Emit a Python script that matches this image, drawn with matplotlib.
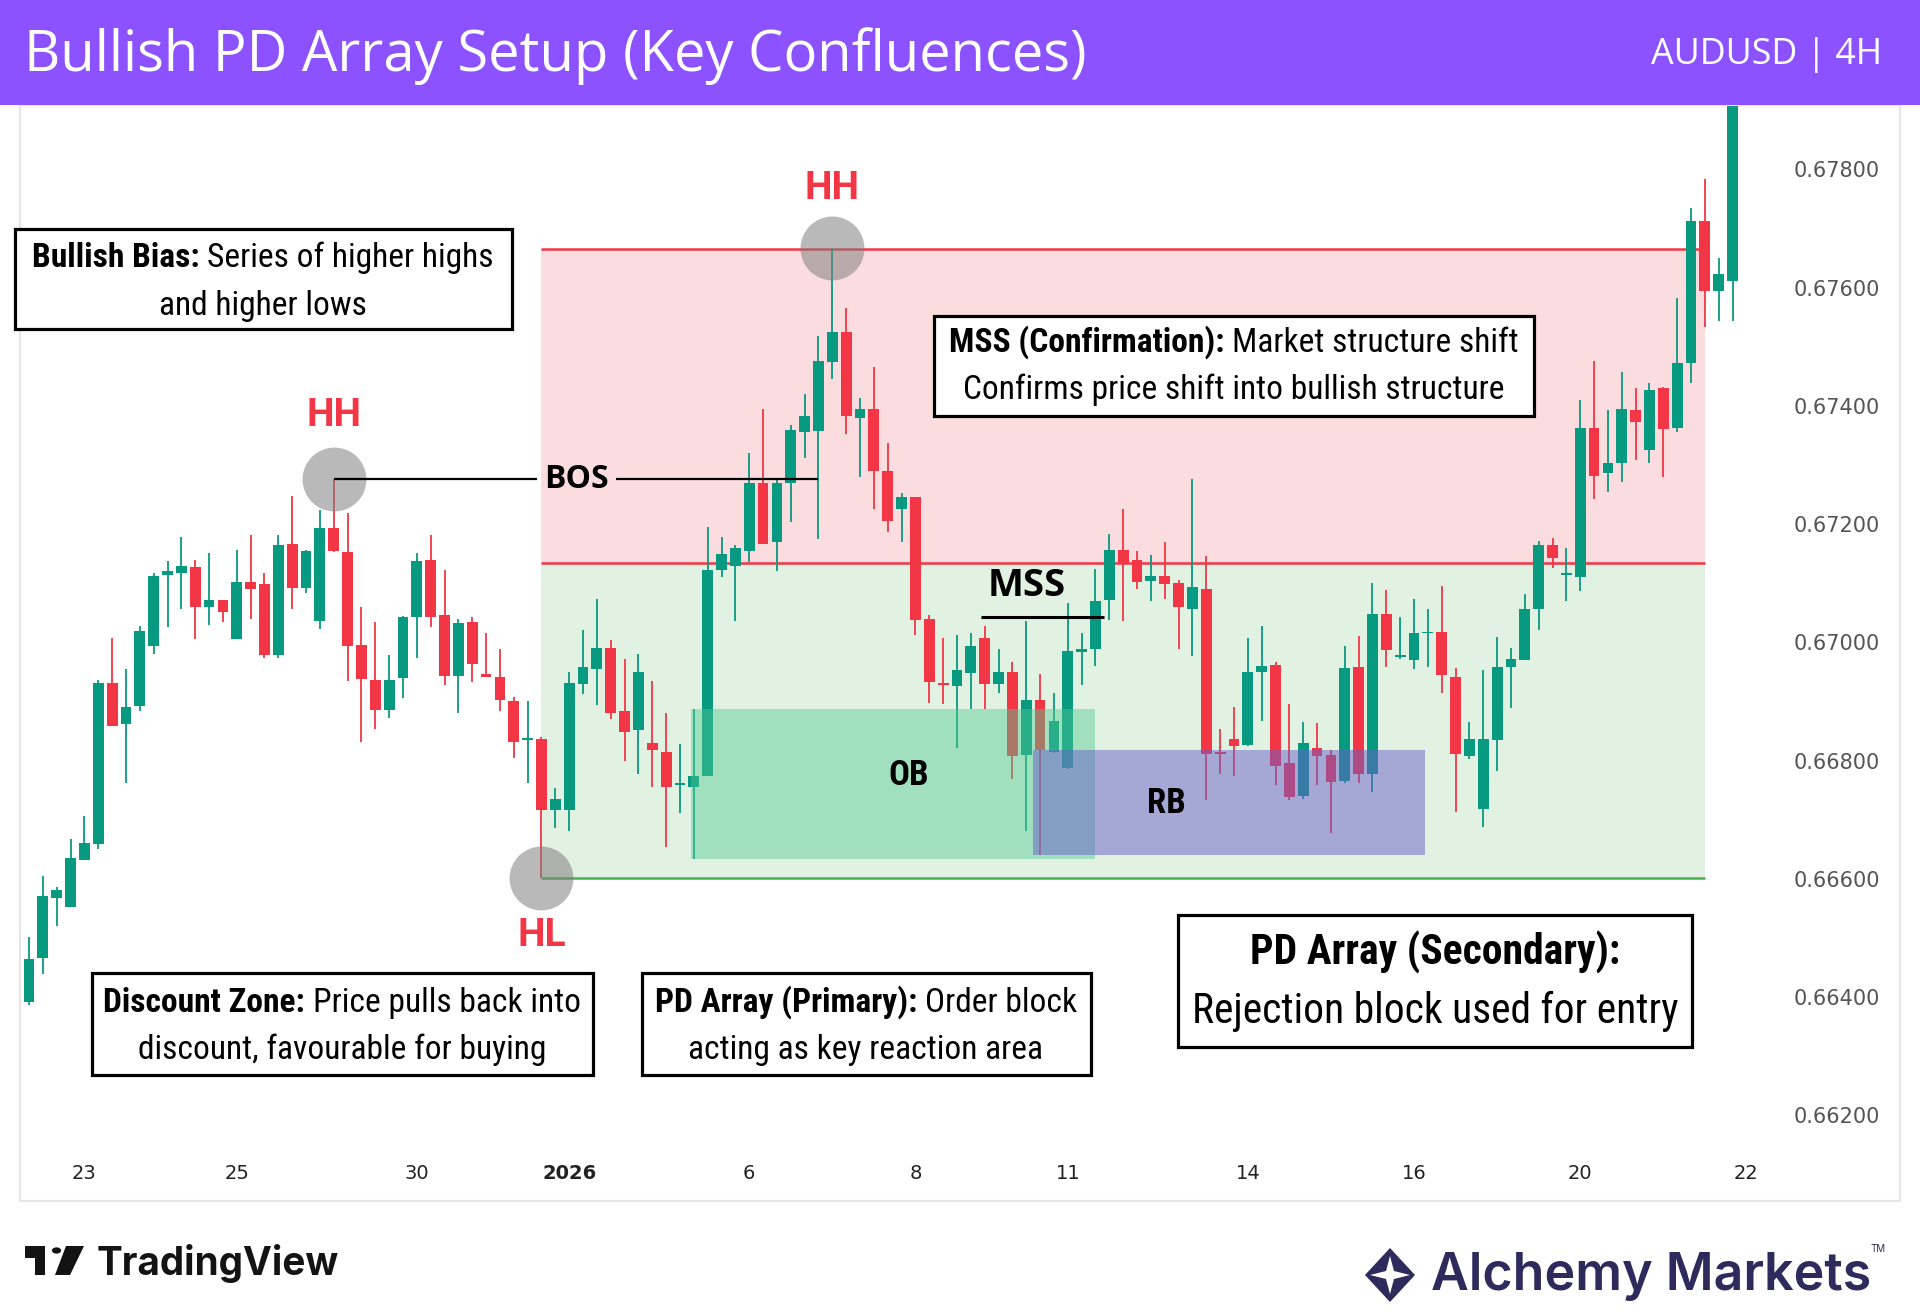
import matplotlib
matplotlib.use("Agg")
import matplotlib.pyplot as plt
from matplotlib import font_manager
from matplotlib.patches import Rectangle, Polygon, Circle
import numpy as np

W, H = 1920, 1314

# AUDUSD 4H candles
opens = [
    0.66392, 0.66466, 0.66567, 0.66552, 0.66631, 0.66659, 0.66931, 0.66861, 0.66892, 0.66994,
    0.67114, 0.67117, 0.67127, 0.67059, 0.67072, 0.67005, 0.67102, 0.67099, 0.66978, 0.67167,
    0.67092, 0.67036, 0.67193, 0.67153, 0.66996, 0.66936, 0.66886, 0.66939, 0.67043, 0.67140,
    0.67047, 0.66943, 0.67034, 0.66947, 0.66941, 0.66900, 0.66835, 0.66837, 0.66717, 0.66716,
    0.66929, 0.66954, 0.66990, 0.66884, 0.66852, 0.66830, 0.66815, 0.66759, 0.66756, 0.66774,
    0.67123, 0.67129, 0.67155, 0.67270, 0.67169, 0.67269, 0.67355, 0.67358, 0.67474, 0.67525,
    0.67380, 0.67395, 0.67289, 0.67225, 0.67246, 0.67040, 0.66931, 0.66926, 0.66948, 0.67007,
    0.66930, 0.66950, 0.66809, 0.66902, 0.66815, 0.66787, 0.66984, 0.66989, 0.67071, 0.67157,
    0.67140, 0.67104, 0.67113, 0.67100, 0.67056, 0.67091, 0.66812, 0.66836, 0.66826, 0.66949,
    0.66961, 0.66795, 0.66740, 0.66821, 0.66809, 0.66766, 0.66958, 0.66777, 0.67048, 0.66975,
    0.66970, 0.67015, 0.67018, 0.66942, 0.66808, 0.66718, 0.66834, 0.66958, 0.66970, 0.67057,
    0.67164, 0.67114, 0.67110, 0.67363, 0.67286, 0.67303, 0.67393, 0.67326, 0.67430, 0.67363,
    0.67473, 0.67712, 0.67595, 0.67611]
highs = [
    0.66502, 0.66605, 0.66586, 0.66667, 0.66706, 0.66936, 0.67007, 0.66955, 0.67028, 0.67118,
    0.67138, 0.67179, 0.67140, 0.67151, 0.67072, 0.67156, 0.67182, 0.67118, 0.67182, 0.67248,
    0.67156, 0.67224, 0.67276, 0.67219, 0.67059, 0.67034, 0.66978, 0.67045, 0.67151, 0.67182,
    0.67123, 0.67039, 0.67043, 0.67015, 0.66989, 0.66907, 0.66900, 0.66840, 0.66753, 0.66950,
    0.67021, 0.67073, 0.67004, 0.66971, 0.66980, 0.66935, 0.66880, 0.66828, 0.66887, 0.67195,
    0.67178, 0.67164, 0.67320, 0.67395, 0.67278, 0.67368, 0.67420, 0.67519, 0.67667, 0.67565,
    0.67414, 0.67465, 0.67338, 0.67253, 0.67246, 0.67046, 0.67007, 0.67012, 0.67015, 0.67028,
    0.66988, 0.66966, 0.67036, 0.66947, 0.66915, 0.67066, 0.67015, 0.67124, 0.67183, 0.67225,
    0.67155, 0.67148, 0.67170, 0.67106, 0.67276, 0.67146, 0.66853, 0.66891, 0.67007, 0.67027,
    0.66966, 0.66896, 0.66866, 0.66864, 0.66818, 0.66994, 0.67010, 0.67100, 0.67089, 0.67042,
    0.67073, 0.67056, 0.67096, 0.66957, 0.66866, 0.66953, 0.67009, 0.66990, 0.67082, 0.67171,
    0.67177, 0.67160, 0.67410, 0.67476, 0.67393, 0.67457, 0.67430, 0.67438, 0.67432, 0.67583,
    0.67734, 0.67784, 0.67651, 0.67960]
lows = [
    0.66387, 0.66438, 0.66520, 0.66552, 0.66631, 0.66651, 0.66859, 0.66762, 0.66884, 0.66981,
    0.67026, 0.67056, 0.67005, 0.67030, 0.67035, 0.67005, 0.67039, 0.66973, 0.66973, 0.67057,
    0.67083, 0.67023, 0.67153, 0.66934, 0.66832, 0.66853, 0.66872, 0.66905, 0.66973, 0.67026,
    0.66927, 0.66881, 0.66932, 0.66941, 0.66883, 0.66805, 0.66762, 0.66602, 0.66686, 0.66680,
    0.66913, 0.66894, 0.66871, 0.66800, 0.66778, 0.66755, 0.66653, 0.66712, 0.66633, 0.66774,
    0.67111, 0.67036, 0.67136, 0.67167, 0.67121, 0.67204, 0.67312, 0.67174, 0.67446, 0.67353,
    0.67280, 0.67225, 0.67187, 0.67169, 0.67012, 0.66898, 0.66895, 0.66821, 0.66887, 0.66887,
    0.66914, 0.66769, 0.66681, 0.66640, 0.66812, 0.66785, 0.66927, 0.66960, 0.67038, 0.67036,
    0.67091, 0.67070, 0.67073, 0.66988, 0.66976, 0.66734, 0.66777, 0.66774, 0.66824, 0.66867,
    0.66758, 0.66733, 0.66735, 0.66759, 0.66677, 0.66762, 0.66762, 0.66747, 0.66959, 0.66972,
    0.66954, 0.66959, 0.66914, 0.66713, 0.66802, 0.66687, 0.66782, 0.66889, 0.66970, 0.67021,
    0.67125, 0.67070, 0.67087, 0.67242, 0.67255, 0.67272, 0.67309, 0.67303, 0.67279, 0.67355,
    0.67438, 0.67534, 0.67544, 0.67544]
closes = [
    0.66464, 0.66570, 0.66581, 0.66635, 0.66661, 0.66931, 0.66859, 0.66890, 0.67019, 0.67113,
    0.67120, 0.67129, 0.67059, 0.67072, 0.67052, 0.67102, 0.67091, 0.66978, 0.67164, 0.67092,
    0.67154, 0.67194, 0.67154, 0.66994, 0.66938, 0.66886, 0.66936, 0.67043, 0.67138, 0.67043,
    0.66943, 0.67032, 0.66963, 0.66941, 0.66902, 0.66832, 0.66837, 0.66717, 0.66735, 0.66931,
    0.66958, 0.66991, 0.66881, 0.66848, 0.66950, 0.66817, 0.66756, 0.66761, 0.66774, 0.67123,
    0.67150, 0.67159, 0.67270, 0.67167, 0.67270, 0.67359, 0.67383, 0.67476, 0.67525, 0.67383,
    0.67395, 0.67290, 0.67206, 0.67246, 0.67038, 0.66932, 0.66927, 0.66953, 0.66993, 0.66930,
    0.66949, 0.66808, 0.66902, 0.66817, 0.66867, 0.66985, 0.66988, 0.67070, 0.67157, 0.67134,
    0.67102, 0.67113, 0.67098, 0.67059, 0.67094, 0.66811, 0.66811, 0.66824, 0.66950, 0.66960,
    0.66791, 0.66739, 0.66830, 0.66808, 0.66764, 0.66956, 0.66777, 0.67048, 0.66987, 0.66978,
    0.67015, 0.67017, 0.66944, 0.66811, 0.66837, 0.66837, 0.66959, 0.66971, 0.67056, 0.67165,
    0.67142, 0.67117, 0.67363, 0.67281, 0.67303, 0.67395, 0.67372, 0.67427, 0.67361, 0.67473,
    0.67712, 0.67594, 0.67623, 0.67950]

date_ticks = [4, 15, 28, 39, 52, 64, 75, 88, 100, 112, 124]
date_labels = ["23", "25", "30", "2026", "6", "8", "11", "14", "16", "20", "22"]
price_ticks = [0.662, 0.664, 0.666, 0.668, 0.670, 0.672, 0.674, 0.676, 0.678]

# structure points / zones
hh1, hh2, hl = 22, 58, 37
zone_end = 121
premium_top = 0.67665
equilibrium = 0.67135
discount_low = 0.66602
ob_x, ob_y = (47.8, 77.0), (0.66633, 0.66887)
rb_x, rb_y = (72.5, 100.8), (0.66640, 0.66818)
mss_price = 0.67043

GREEN = "#089981"
RED = "#F23645"

names = {f.name for f in font_manager.fontManager.ttflist}
COND = "Roboto Condensed" if "Roboto Condensed" in names else (
    "Liberation Sans Narrow" if "Liberation Sans Narrow" in names else "Roboto")


def ff(x, y):
    return x / W, 1 - y / H


fig = plt.figure(figsize=(W / 100, H / 100), dpi=100)
fig.patch.set_facecolor("white")
renderer = fig.canvas.get_renderer()

ax = fig.add_axes([20 / W, 1 - 1150 / H, 1740 / W, 1045 / H])
ax.set_facecolor("white")
ax.set_xlim(-0.65, 124.98)
ax.set_ylim(0.66141, 0.679091)
for s in ax.spines.values():
    s.set_visible(False)

# zones
ax.fill_between([hl, zone_end], equilibrium, premium_top, color=RED, alpha=0.17, lw=0, zorder=1)
ax.fill_between([hl, zone_end], discount_low, equilibrium, color="#4CAF50", alpha=0.16, lw=0, zorder=1)
ax.hlines([premium_top, equilibrium], hl, zone_end, color=RED, lw=1.8, zorder=2)
ax.hlines(discount_low, hl, zone_end, color="#4CAF50", lw=1.8, zorder=2)

# candles
o, h, l, c = map(np.array, (opens, highs, lows, closes))
x = np.arange(len(o))
cols = np.where(c >= o, GREEN, RED)
ax.vlines(x, l, h, colors=cols, lw=1.3, zorder=3)
ax.bar(x, np.maximum(np.abs(c - o), 0.00003), bottom=np.minimum(o, c), width=0.78,
       color=cols, lw=0, zorder=4)

# order block / rejection block
ax.add_patch(Rectangle((ob_x[0], ob_y[0]), ob_x[1] - ob_x[0], ob_y[1] - ob_y[0],
                       fc="#50CC93", alpha=0.45, lw=0, zorder=5))
ax.add_patch(Rectangle((rb_x[0], rb_y[0]), rb_x[1] - rb_x[0], rb_y[1] - rb_y[0],
                       fc="#6960C9", alpha=0.5, lw=0, zorder=6))
ax.text(63.5, 0.66774, "OB", ha="center", va="center", fontsize=25, fontweight="bold",
        family=COND, zorder=7)
ax.text(82.1, 0.66728, "RB", ha="center", va="center", fontsize=25, fontweight="bold",
        family=COND, zorder=7)

# swing points
ax.scatter([hh1, hh2, hl], [h[hh1], h[hh2], l[hl]], s=2116, c="#808080", alpha=0.55,
           lw=0, zorder=7)
for xi, yi, lab, dy in [(hh1, h[hh1], "HH", 64), (hh2, h[hh2], "HH", 60), (hl, l[hl], "HL", -58)]:
    ax.annotate(lab, (xi, yi), xytext=(0, dy), textcoords="offset pixels", ha="center",
                va="center", color=RED, fontsize=28, fontweight="bold", family="Roboto", zorder=8)

# BOS
bos = h[hh1]
ax.hlines(bos, hh1, 36.7, color="black", lw=1.6, zorder=8)
ax.hlines(bos, 42.4, 57, color="black", lw=1.6, zorder=8)
ax.text(39.55, bos, "BOS", ha="center", va="center", fontsize=23, fontweight="bold",
        family="Open Sans", zorder=8)

# MSS
ax.hlines(mss_price, 68.7, 77.6, color="black", lw=2.2, zorder=8)
ax.annotate("MSS", (72.0, mss_price), xytext=(0, 31), textcoords="offset pixels", ha="center",
            va="center", fontsize=27.5, fontweight="bold", family="Open Sans", zorder=8)

# axes ticks
ax.set_xticks(date_ticks)
ax.set_xticklabels(date_labels)
ax.tick_params(axis="x", length=0, pad=10, labelsize=14, labelcolor="#222222")
ax.get_xticklabels()[3].set_fontweight("bold")
ax.yaxis.tick_right()
ax.set_yticks(price_ticks)
ax.set_yticklabels([f"{p:.5f}" for p in price_ticks])
ax.tick_params(axis="y", length=0, pad=24, labelsize=15, labelcolor="#555555")

# chart frame
fig.add_artist(Rectangle(ff(20, 1201), 1880 / W, 1096 / H, transform=fig.transFigure,
                         fill=False, ec="#E6E6E6", lw=1.5, zorder=2))

# header
fig.add_artist(Rectangle((0, 1 - 105 / H), 1, 105 / H, transform=fig.transFigure,
                         fc="#8C52FF", lw=0, zorder=5))
t = fig.text(*ff(24, 56), "Bullish PD Array Setup (Key Confluences)", color="white",
             fontsize=36, family="Open Sans", va="center", ha="left", zorder=6)
t.set_fontsize(36 * 1063 / t.get_window_extent(renderer).width)
t = fig.text(*ff(1882, 55), "AUDUSD | 4H", color="white", fontsize=24, family="Open Sans",
             va="center", ha="right", zorder=6)
t.set_fontsize(24 * 231 / t.get_window_extent(renderer).width)


# annotation boxes
def make_line(parts, y, size):
    return [fig.text(*ff(0, y), s, fontsize=size, fontweight=w, family=COND, ha="left",
                     va="baseline", color="black", zorder=9) for s, w in parts]


def width(ts, size):
    gap = 0.22 * size * 100 / 72
    return sum(t.get_window_extent(renderer).width for t in ts) + gap * (len(ts) - 1)


def place(ts, cx, size):
    for t in ts:
        t.set_fontsize(size)
    gap = 0.22 * size * 100 / 72
    xx = cx - width(ts, size) / 2
    for t in ts:
        t.set_x(xx / W)
        xx += t.get_window_extent(renderer).width + gap


def box(x0, y0, x1, y1):
    fig.add_artist(Rectangle(ff(x0, y1), (x1 - x0) / W, (y1 - y0) / H, transform=fig.transFigure,
                             fc="white", ec="black", lw=2.3, zorder=8))


B, N = "bold", "normal"
small = [
    ((15, 229, 512, 329), 263, [
        ([("Bullish Bias:", B), ("Series of higher highs", N)], 267),
        ([("and higher lows", N)], 315)]),
    ((934, 316, 1534, 416), 1234, [
        ([("MSS (Confirmation):", B), ("Market structure shift", N)], 352),
        ([("Confirms price shift into bullish structure", N)], 399)]),
    ((92, 973, 593, 1075), 342, [
        ([("Discount Zone:", B), ("Price pulls back into", N)], 1012),
        ([("discount, favourable for buying", N)], 1059)]),
    ((642, 973, 1091, 1075), 866, [
        ([("PD Array (Primary):", B), ("Order block", N)], 1012),
        ([("acting as key reaction area", N)], 1059)]),
]
built = []
for rect, cx, lines in small:
    box(*rect)
    built.append((cx, [make_line(p, y, 20) for p, y in lines]))
size_small = 20 * 462 / width(built[0][1][0], 20)
for cx, tl in built:
    for ts in tl:
        place(ts, cx, size_small)

box(1178, 915, 1692, 1047)
l1 = make_line([("PD Array (Secondary):", B)], 964, 27)
l2 = make_line([("Rejection block used for entry", N)], 1023, 27)
size_big = 27 * 486 / width(l2, 27)
place(l1, 1435, size_big)
place(l2, 1435, size_big)

# footer: TradingView
fig.add_artist(Polygon([ff(25, 1246), ff(45, 1246), ff(45, 1275), ff(35, 1275), ff(35, 1258),
                        ff(25, 1258)], closed=True, transform=fig.transFigure, fc="#131313", lw=0))
fig.add_artist(Circle(ff(56.5, 1250.5), 4.6 / W, transform=fig.transFigure, fc="#131313", lw=0))
fig.add_artist(Polygon([ff(66, 1246), ff(84, 1246), ff(70, 1275), ff(55, 1275)], closed=True,
                       transform=fig.transFigure, fc="#131313", lw=0))
t = fig.text(*ff(97, 1275), "TradingView", fontsize=26, fontweight="bold", family="Inter",
             color="#131313", ha="left", va="baseline")
t.set_fontsize(26 * 243 / t.get_window_extent(renderer).width)

# footer: Alchemy Markets
NAVY = "#2E2A5C"
cx, cy = 1390, 1275
fig.add_artist(Polygon([ff(cx, cy - 27), ff(cx + 25, cy), ff(cx, cy + 27), ff(cx - 25, cy)],
                       closed=True, transform=fig.transFigure, fc=NAVY, lw=0))
fig.add_artist(Polygon([ff(cx, cy - 19), ff(cx + 4, cy - 4), ff(cx + 20, cy), ff(cx + 4, cy + 4),
                        ff(cx, cy + 19), ff(cx - 4, cy + 4), ff(cx - 20, cy), ff(cx - 4, cy - 4)],
                       closed=True, transform=fig.transFigure, fc="white", lw=0))
t = fig.text(*ff(1431, 1290), "Alchemy Markets", fontsize=36, fontweight="semibold",
             family="Inter", color=NAVY, ha="left", va="baseline")
t.set_fontsize(36 * 440 / t.get_window_extent(renderer).width)
fig.text(*ff(1870, 1252), "TM", fontsize=7, family="Inter", color=NAVY, ha="left", va="baseline")

fig.savefig("out.png", dpi=100, facecolor="white")
